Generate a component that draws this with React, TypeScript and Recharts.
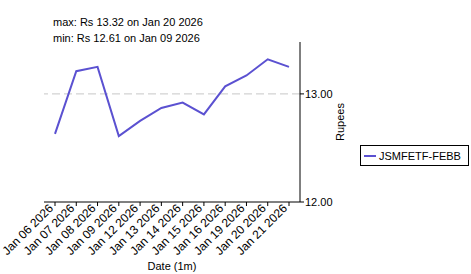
import { LineChart, Line, XAxis, YAxis, ReferenceLine, Label } from 'recharts';

// Daily closing price, JSMFETF-FEBB (Rs)
const dates = [
  'Jan 06 2026',
  'Jan 07 2026',
  'Jan 08 2026',
  'Jan 09 2026',
  'Jan 12 2026',
  'Jan 13 2026',
  'Jan 14 2026',
  'Jan 15 2026',
  'Jan 16 2026',
  'Jan 19 2026',
  'Jan 20 2026',
  'Jan 21 2026',
];
const prices = [12.63, 13.21, 13.25, 12.61, 12.75, 12.87, 12.92, 12.81, 13.07, 13.17, 13.32, 13.25];
const yTicks = [12, 13];
const gridValues = [13];

const SERIES_NAME = 'JSMFETF-FEBB';
const LINE_COLOR = '#5b51d1';
const FONT = '"Liberation Sans", Arial, sans-serif';

const data = dates.map((date, i) => ({ date, price: prices[i] }));

// rotated date label under each x tick
function DateTick({ x, y, payload }: any) {
  const tx = x - 1;
  const ty = y + 1;
  return (
    <text
      x={tx}
      y={ty}
      textAnchor="end"
      fontSize={12}
      fontFamily={FONT}
      fill="#000"
      transform={`rotate(-45 ${tx} ${ty})`}
    >
      {payload.value}
    </text>
  );
}

export default function App() {
  const maxIdx = prices.indexOf(Math.max(...prices));
  const minIdx = prices.indexOf(Math.min(...prices));

  return (
    <div
      style={{
        position: 'absolute',
        left: 0,
        top: 0,
        width: 471,
        height: 274,
        background: '#fff',
        fontFamily: FONT,
      }}
    >
      <div style={{ position: 'absolute', left: 53, top: 14, fontSize: 11, lineHeight: '16px' }}>
        max: Rs {prices[maxIdx].toFixed(2)} on {dates[maxIdx]}
        <br />
        min: Rs {prices[minIdx].toFixed(2)} on {dates[minIdx]}
      </div>

      <LineChart
        width={471}
        height={274}
        data={data}
        margin={{ top: 42, right: 121, bottom: 12, left: 44 }}
      >
        <XAxis
          dataKey="date"
          interval={0}
          height={60}
          padding={{ left: 11, right: 11 }}
          tickSize={4}
          stroke="#000"
          tick={<DateTick />}
        >
          <Label
            value="Date (1m)"
            position="insideBottom"
            offset={-8}
            style={{ fontSize: 11, fontFamily: FONT, fill: '#000' }}
          />
        </XAxis>
        <YAxis
          yAxisId="l"
          orientation="left"
          width={0}
          domain={[12, 13.48]}
          ticks={yTicks}
          tick={false}
          tickLine={false}
          stroke="#000"
        />
        <YAxis
          yAxisId="r"
          orientation="right"
          width={50}
          domain={[12, 13.48]}
          ticks={yTicks}
          tickSize={4}
          tickMargin={1}
          stroke="#000"
          tick={{ fontSize: 11, fontFamily: FONT, fill: '#000' }}
          tickFormatter={(v: number) => v.toFixed(2)}
        >
          <Label
            value="Rupees"
            angle={-90}
            position="center"
            dx={15}
            style={{ fontSize: 11, fontFamily: FONT, fill: '#000' }}
          />
        </YAxis>
        {gridValues.map((v) => (
          <ReferenceLine
            key={v}
            yAxisId="r"
            y={v}
            stroke="#c8c8c8"
            strokeDasharray="8 4"
          />
        ))}
        <Line
          yAxisId="r"
          type="linear"
          dataKey="price"
          name={SERIES_NAME}
          stroke={LINE_COLOR}
          strokeWidth={2}
          dot={false}
          isAnimationActive={false}
        />
      </LineChart>

      <div
        style={{
          position: 'absolute',
          left: 360,
          top: 145,
          width: 107,
          height: 19,
          border: '1px solid #000',
          display: 'flex',
          alignItems: 'center',
          fontSize: 11,
        }}
      >
        <span
          style={{
            display: 'inline-block',
            width: 12,
            height: 2,
            background: LINE_COLOR,
            marginLeft: 3,
            marginRight: 3,
          }}
        />
        {SERIES_NAME}
      </div>
    </div>
  );
}
